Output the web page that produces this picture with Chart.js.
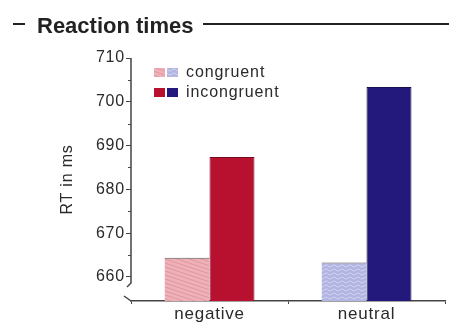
<!DOCTYPE html>
<html>
<head>
  <meta charset="utf-8">
  <title>Reaction times</title>
  <script src="https://cdn.jsdelivr.net/npm/chart.js"></script>
  <style>
    html, body { margin: 0; padding: 0; background: #fff; }
  </style>
</head>
<body>
  <canvas id="rt-chart" width="449" height="322"></canvas>

<script>

// data
var categories = ['negative', 'neutral'];
var seriesNames = ['congruent', 'incongruent'];
var congruentRT = [664.4, 663.3];
var incongruentRT = [687.4, 703.4];
var yTicks = [660, 670, 680, 690, 700, 710];
var yMinorTicks = [665, 675, 685, 695, 705];

var canvas = document.getElementById('rt-chart'),
ctx = canvas.getContext('2d');

var FONT = '"Liberation Sans", Arial, sans-serif';
var TXT = '#2a2a2a';
var AXIS = '#444';

// hatch fills for the congruent bars
function makePattern(base, line, kind) {
  var c = document.createElement('canvas');
  var g = c.getContext('2d');
  if (kind === 'diag') {
    c.width = 12; c.height = 4;
    g.fillStyle = base; g.fillRect(0, 0, 12, 4);
    g.strokeStyle = line; g.lineWidth = 0.8;
    [-4, 0, 4].forEach(function (o) {
      g.beginPath(); g.moveTo(0, o); g.lineTo(12, o + 4); g.stroke();
    });
  } else {
    c.width = 8; c.height = 4;
    g.fillStyle = base; g.fillRect(0, 0, 8, 4);
    g.strokeStyle = line; g.lineWidth = 0.9;
    g.beginPath();
    for (var x = 0; x <= 8; x += 0.5) {
      var y = 2 + Math.sin(x / 8 * Math.PI * 2) * 0.9;
      if (x === 0) g.moveTo(x, y); else g.lineTo(x, y);
    }
    g.stroke();
  }
  return ctx.createPattern(c, 'repeat');
}

var pinkHatch = makePattern('#efb0b8', '#dc929c', 'diag');
var blueHatch = makePattern('#b2b4e2', '#dcdef4', 'wave');
var congruentFill = [pinkHatch, blueHatch];
var incongruentFill = ['#b7112f', '#23187c'];

var decorations = {
  id: 'decorations',
  beforeDraw: function (chart) {
    chart.ctx.letterSpacing = '0.8px';
  },
  afterDraw: function (chart) {
    var c = chart.ctx;
    var ys = chart.scales.y;
    var area = chart.chartArea;
    var ax = area.left;
    c.save();
    c.letterSpacing = '0px';

    // title row
    c.strokeStyle = '#222';
    c.lineWidth = 2;
    c.beginPath(); c.moveTo(13, 24); c.lineTo(25, 24); c.stroke();
    c.beginPath(); c.moveTo(203, 24); c.lineTo(449, 24); c.stroke();
    c.fillStyle = '#222';
    c.font = 'bold 22px ' + FONT;
    c.textBaseline = 'alphabetic';
    c.fillText('Reaction times', 37, 33);

    // y axis line with break
    c.strokeStyle = AXIS;
    c.lineWidth = 1.5;
    c.beginPath();
    c.moveTo(ax, ys.getPixelForValue(710));
    c.lineTo(ax, 283);
    c.lineTo(ax - 4, 287);
    c.stroke();
    c.beginPath();
    c.moveTo(ax - 7, 296);
    c.lineTo(ax, area.bottom);
    c.stroke();

    // minor ticks
    c.lineWidth = 1;
    yMinorTicks.forEach(function (v) {
      var y = Math.round(ys.getPixelForValue(v)) + 0.5;
      c.beginPath(); c.moveTo(ax - 3, y); c.lineTo(ax, y); c.stroke();
    });

    // legend
    var rows = [
      { label: seriesNames[0], fills: congruentFill, y: 68 },
      { label: seriesNames[1], fills: incongruentFill, y: 88 }
    ];
    c.font = '16px ' + FONT;
    c.letterSpacing = '0.9px';
    c.textBaseline = 'middle';
    rows.forEach(function (r) {
      c.fillStyle = r.fills[0]; c.fillRect(154, r.y, 11, 9);
      c.fillStyle = r.fills[1]; c.fillRect(167, r.y, 11, 9);
      c.fillStyle = TXT;
      c.fillText(r.label, 186, r.y + 5);
    });
    c.restore();
  }
};

var myChart = new Chart(ctx, {
  type: 'bar',
  data: {
    labels: categories,
    datasets: [
      {
        label: seriesNames[0],
        data: congruentRT,
        backgroundColor: congruentFill,
        borderColor: '#555',
        borderWidth: { top: 1, left: 0, right: 0, bottom: 0 },
        borderSkipped: false
      },
      {
        label: seriesNames[1],
        data: incongruentRT,
        backgroundColor: incongruentFill,
        borderColor: ['#7a0a20', '#14104e'],
        borderWidth: 1,
        borderSkipped: 'bottom'
      }
    ]
  },
  options: {
    responsive: false,
    animation: false,
    layout: { padding: { top: 58, right: 4, left: 0, bottom: 0 } },
    plugins: {
      legend: { display: false },
      tooltip: { enabled: false }
    },
    datasets: {
      bar: { categoryPercentage: 0.573, barPercentage: 1 }
    },
    scales: {
      x: {
        offset: true,
        afterFit: function (s) { s.height = 21; },
        border: { display: true, color: AXIS, width: 1.5 },
        grid: { display: true, drawOnChartArea: false, offset: true, tickLength: 3, color: AXIS },
        ticks: { color: TXT, padding: 0, font: { size: 17, family: FONT } }
      },
      y: {
        min: 654.5,
        max: 710,
        afterBuildTicks: function (s) {
          s.ticks = yTicks.map(function (v) { return { value: v }; });
        },
        afterFit: function (s) { s.width = 131; },
        border: { display: false },
        grid: { display: true, drawOnChartArea: false, tickLength: 5, color: AXIS, lineWidth: 1 },
        ticks: { color: TXT, padding: 1, font: { size: 16, family: FONT } },
        title: {
          display: true,
          text: 'RT in ms',
          color: TXT,
          font: { size: 16, family: FONT },
          padding: { top: 58, bottom: 0 }
        }
      }
    }
  },
  plugins: [decorations]
});

</script>

</body>
</html>
